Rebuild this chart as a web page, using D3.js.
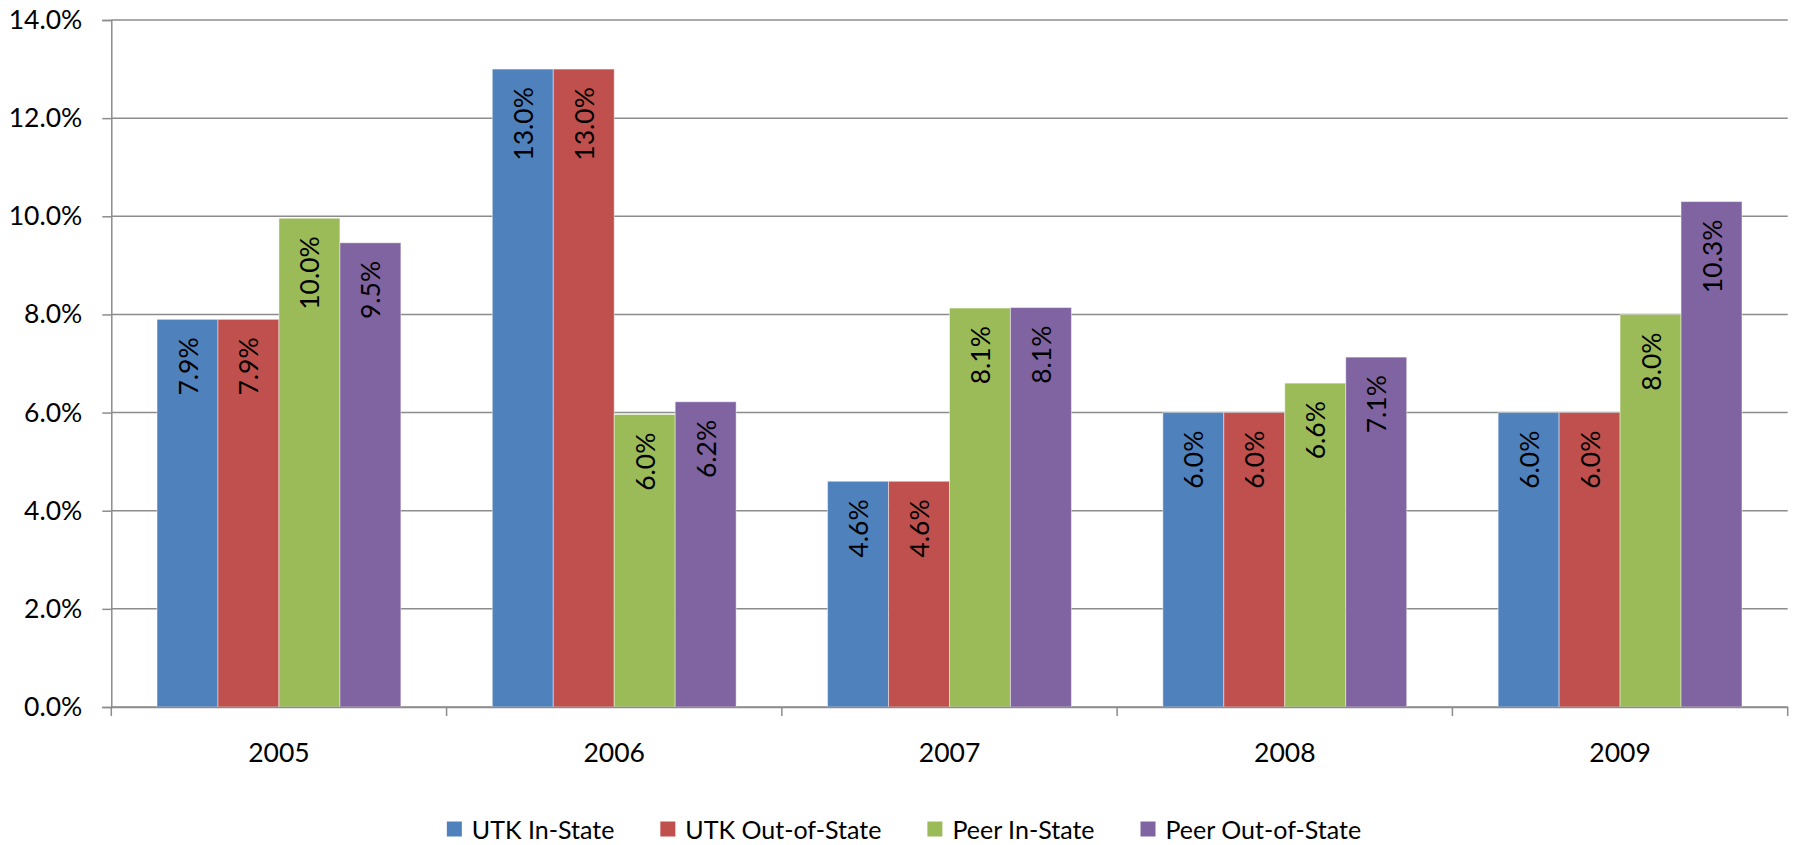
<!DOCTYPE html>
<html>
<head>
<meta charset="utf-8">
<script src="https://cdn.jsdelivr.net/npm/d3@7"></script>
<style>
  html, body { margin: 0; padding: 0; background: #fff; }
  svg { display: block; }
  text { font-family: Lato, "Open Sans", sans-serif; fill: #000; }
</style>
</head>
<body>
<svg id="chart" width="1793" height="845"></svg>
<script>
// Tuition increase by year, UTK vs. peer institutions (percent)
const years = ["2005", "2006", "2007", "2008", "2009"];
const seriesNames = ["UTK In-State", "UTK Out-of-State", "Peer In-State", "Peer Out-of-State"];
const seriesColors = ["#4F81BD", "#C0504D", "#9BBB59", "#8064A2"];
const utkInState = [7.9, 13.0, 4.6, 6.0, 6.0];
const utkOutState = [7.9, 13.0, 4.6, 6.0, 6.0];
const peerInState = [9.96, 5.96, 8.13, 6.6, 8.0];
const peerOutState = [9.46, 6.22, 8.14, 7.13, 10.3];
const yTicks = [0, 2, 4, 6, 8, 10, 12, 14];

const seriesValues = [utkInState, utkOutState, peerInState, peerOutState];
const rows = years.map((y, i) => ({
  year: y,
  values: seriesNames.map((s, k) => ({ key: s, color: seriesColors[k], value: seriesValues[k][i] }))
}));

const svg = d3.select("#chart");
const W = 1793, H = 845;
const margin = { left: 111.3, right: W - 1787.7, top: 20, bottom: H - 707 };

const x0 = d3.scaleBand().domain(years).range([margin.left, W - margin.right]).padding(0);
const x1 = d3.scaleBand().domain(seriesNames).range([0, x0.bandwidth()])
  .paddingInner(0).paddingOuter(0.75);
const y = d3.scaleLinear().domain([0, 14]).range([H - margin.bottom, margin.top]);

const fmt = v => d3.format(".1f")(v) + "%";
const gridColor = "#8c8c8c";

// Horizontal gridlines
svg.append("g")
  .selectAll("line")
  .data(yTicks)
  .join("line")
  .attr("x1", margin.left).attr("x2", W - margin.right)
  .attr("y1", d => y(d)).attr("y2", d => y(d))
  .attr("stroke", gridColor).attr("stroke-width", 1.5);

// Y axis
const yAxis = svg.append("g")
  .attr("transform", `translate(${margin.left},0)`)
  .call(d3.axisLeft(y).tickValues(yTicks).tickSize(9).tickPadding(20).tickFormat(d => d.toFixed(1) + "%"));
yAxis.select(".domain").attr("stroke", gridColor).attr("stroke-width", 1.5);
yAxis.selectAll(".tick line").attr("stroke", gridColor).attr("stroke-width", 1.5);
yAxis.selectAll(".tick text").attr("font-size", 26.5).attr("font-family", "Lato, sans-serif").attr("fill", "#000");

// Bars
const groups = svg.append("g")
  .selectAll("g")
  .data(rows)
  .join("g")
  .attr("transform", d => `translate(${x0(d.year)},0)`);

groups.selectAll("rect")
  .data(d => d.values)
  .join("rect")
  .attr("x", d => x1(d.key))
  .attr("width", x1.bandwidth())
  .attr("y", d => y(d.value))
  .attr("height", d => y(0) - y(d.value))
  .attr("fill", d => d.color)
  .attr("stroke", "rgba(255,255,255,0.45)")
  .attr("stroke-width", 1);

// Value labels, rotated, inside the top of each bar
groups.selectAll("text")
  .data(d => d.values)
  .join("text")
  .attr("transform", d => `translate(${x1(d.key) + x1.bandwidth() / 2},${y(d.value) + 18}) rotate(-90)`)
  .attr("text-anchor", "end")
  .attr("dominant-baseline", "central")
  .attr("font-size", 26.5)
  .text(d => fmt(d.value));

// X axis
const xAxis = svg.append("g")
  .attr("transform", `translate(0,${y(0)})`)
  .call(d3.axisBottom(x0).tickSize(0).tickPadding(36));
xAxis.select(".domain").attr("stroke", gridColor).attr("stroke-width", 1.5);
xAxis.selectAll(".tick text").attr("font-size", 26.5).attr("font-family", "Lato, sans-serif").attr("fill", "#000");

// Category boundary ticks
const boundaries = years.map(yr => x0(yr)).concat([x0(years[years.length - 1]) + x0.bandwidth()]);
svg.append("g")
  .selectAll("line")
  .data(boundaries)
  .join("line")
  .attr("x1", d => d).attr("x2", d => d)
  .attr("y1", y(0)).attr("y2", y(0) + 9)
  .attr("stroke", gridColor).attr("stroke-width", 1.5);

// Legend
const swatch = 15, swatchGap = 10, itemGap = 46;
const legend = svg.append("g");
const items = legend.selectAll("g")
  .data(seriesNames.map((s, k) => ({ key: s, color: seriesColors[k] })))
  .join("g");
items.append("rect")
  .attr("width", swatch).attr("height", swatch)
  .attr("y", -swatch / 2)
  .attr("fill", d => d.color);
items.append("text")
  .attr("x", swatch + swatchGap)
  .attr("dominant-baseline", "central")
  .attr("font-size", 25)
  .text(d => d.key);
let cursor = 0;
const positions = [];
items.each(function () {
  positions.push(cursor);
  cursor += this.getBBox().width + itemGap;
});
items.attr("transform", (d, i) => `translate(${positions[i]},0)`);
const legendWidth = cursor - itemGap;
legend.attr("transform", `translate(${904 - legendWidth / 2},${829})`);
</script>
</body>
</html>
